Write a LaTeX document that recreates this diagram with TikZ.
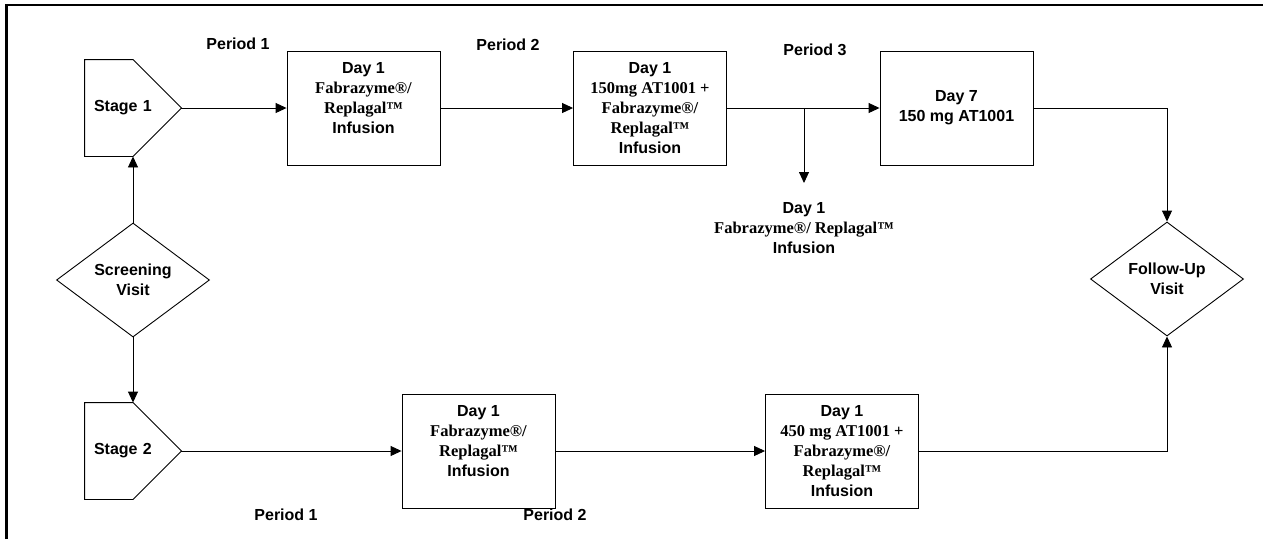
\documentclass[tikz,border=0pt]{standalone}
\usepackage{fontspec}
\setmainfont{Liberation Sans}
\newfontfamily\tnr{Liberation Serif}
\usetikzlibrary{shapes.geometric, arrows.meta}
\tikzstyle{stagebox} = [rectangle, minimum height=96pt, text width=78pt, inner xsep=9pt, align=left]
\tikzstyle{process} = [rectangle, minimum width=153pt, minimum height=114pt, align=center, draw=black]
\tikzstyle{visit} = [diamond, aspect=1.34, minimum width=153pt, minimum height=114pt, inner sep=1pt, align=center, draw=black]
\tikzstyle{arrow} = [-{Triangle[length=11pt,width=10pt]}]
\newcommand{\serifline}[1]{{\tnr\fontsize{16.5}{20}\selectfont #1}}

\begin{document}
\begin{tikzpicture}[x=1pt, y=-1pt, line width=0.9pt, every node/.style={font=\bfseries\fontsize{16}{20}\selectfont}]
\useasboundingbox (0,0) rectangle (1263,539);
\draw [line width=2.4pt] (6.5,539) -- (6.5,5) -- (1263,5);

\node (st1) [stagebox] at (133,108) {Stage 1};
\node (st2) [stagebox] at (133,451) {Stage 2};
\node (sv) [visit] at (133,280) {Screening\\Visit};
\node (fu) [visit] at (1167,279) {Follow-Up\\Visit};
\node (p1d1) [process] at (363.5,108) {Day 1\\\serifline{Fabrazyme®/}\\\serifline{Replagal™}\\Infusion\\~};
\node (p2d1) [process] at (650,108) {Day 1\\\serifline{150mg AT1001 +}\\\serifline{Fabrazyme®/}\\\serifline{Replagal™}\\Infusion};
\node (p3d7) [process] at (956.5,108) {Day 7\\150 mg AT1001};
\node (p3d1) [anchor=north, inner ysep=19pt, align=center] at (804,183) {Day 1\\\serifline{Fabrazyme®/ Replagal™}\\Infusion};
\node (s2p1) [process] at (478.5,451) {Day 1\\\serifline{Fabrazyme®/}\\\serifline{Replagal™}\\Infusion\\~};
\node (s2p2) [process] at (842,451) {Day 1\\\serifline{450 mg AT1001 +}\\\serifline{Fabrazyme®/}\\\serifline{Replagal™}\\Infusion};

% period labels
\node (per1) at (238,44) {Period 1};
\node (per2) at (508,45) {Period 2};
\node (per3) at (815,50) {Period 3};
\node (per1b) at (286,515) {Period 1};
\node (per2b) at (555,515) {Period 2};

% stage outlines
\foreach \s in {st1, st2}
  \draw (\s.north west) -- (\s.north) -- (\s.east) -- (\s.south) -- (\s.south west) -- cycle;

\coordinate (br) at (p2d1.east -| p3d1.north);

\draw [arrow] (sv) -- (st1.south);
\draw [arrow] (sv) -- (st2.north);
\draw [arrow] (st1.east) -- (p1d1);
\draw [arrow] (p1d1) -- (p2d1);
\draw [arrow] (p2d1) -- (p3d7);
\draw [arrow] (br) -- (p3d1.north);
\draw [arrow] (p3d7) -| (fu);
\draw [arrow] (st2.east) -- (s2p1);
\draw [arrow] (s2p1) -- (s2p2);
\draw [arrow] (s2p2) -| (fu);
\end{tikzpicture}
\end{document}
